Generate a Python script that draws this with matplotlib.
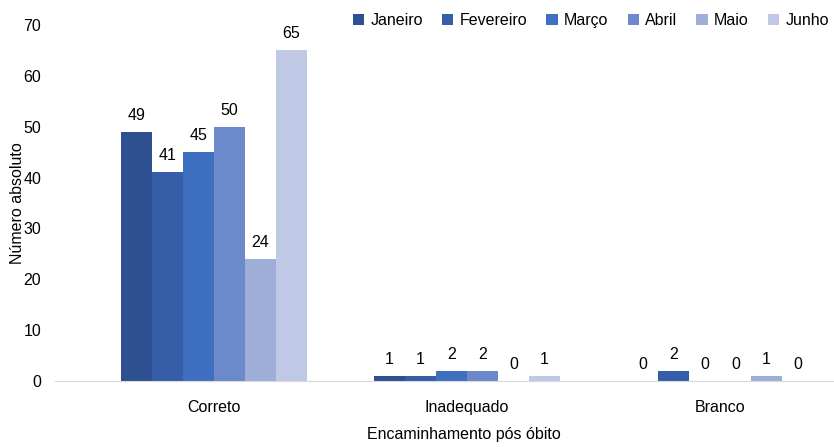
import numpy as np
import matplotlib.pyplot as plt

plt.rcParams['font.family'] = ['Liberation Sans', 'DejaVu Sans']

categorias = ['Correto', 'Inadequado', 'Branco']
meses = ['Janeiro', 'Fevereiro', 'Março', 'Abril', 'Maio', 'Junho']
janeiro = [49, 1, 0]
fevereiro = [41, 1, 2]
marco = [45, 2, 0]
abril = [50, 2, 0]
maio = [24, 0, 1]
junho = [65, 1, 0]
valores = [janeiro, fevereiro, marco, abril, maio, junho]
cores = ['#2E5090', '#365EA8', '#3F6FC0', '#6C89CB', '#9FAED8', '#BFC9E5']

fig = plt.figure(figsize=(8.34, 4.47), dpi=100)
ax = fig.add_axes([0.066, 0.1477, 0.934, 0.7963])

x = np.arange(len(categorias))
w = 0.1225
for i, (mes, vals) in enumerate(zip(meses, valores)):
    pos = x + (i - 2.5) * w
    bars = ax.bar(pos, vals, w, color=cores[i], label=mes)
    for xp, v in zip(pos, vals):
        ax.text(xp, v + 1.8, str(v), ha='center', va='bottom', fontsize=11.5, color='#000000')

ax.set_xlim(-0.628, 2.45)
ax.set_ylim(0, 70)
ax.set_yticks(range(0, 71, 10))
ax.set_xticks(x)
ax.set_xticklabels(categorias, fontsize=11.5)
ax.tick_params(axis='y', labelsize=11.5, length=0, pad=10)
ax.tick_params(axis='x', length=0, pad=14)
for s in ['top', 'right', 'left']:
    ax.spines[s].set_visible(False)
ax.spines['bottom'].set_color('#D9D9D9')

ax.set_ylabel('Número absoluto', fontsize=11.5)
ax.yaxis.set_label_coords(-0.039, 0.5)
ax.set_xlabel('Encaminhamento pós óbito', fontsize=11.5)
ax.xaxis.set_label_coords(0.525, -0.128)

ax.legend(loc='upper right', bbox_to_anchor=(1.012, 1.075), ncol=6, frameon=False,
          fontsize=11.5, handlelength=0.7, handleheight=0.7, handletextpad=0.4,
          columnspacing=1.2)

fig.savefig('out.png', dpi=100)
